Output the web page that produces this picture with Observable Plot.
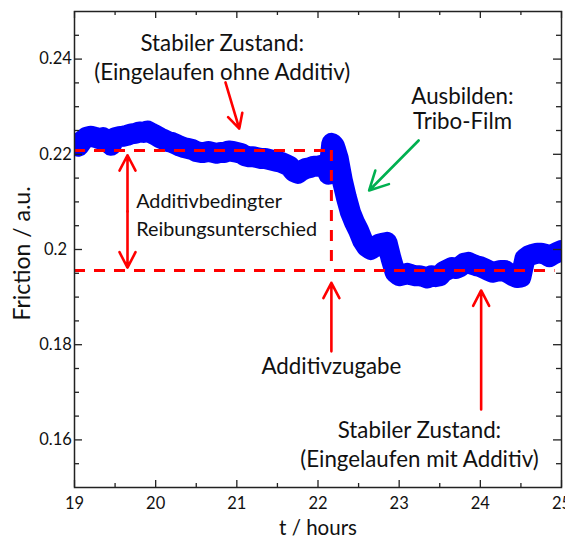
<!DOCTYPE html>
<html>
<head>
<meta charset="utf-8">
<script src="https://cdn.jsdelivr.net/npm/d3@7"></script>
<script src="https://cdn.jsdelivr.net/npm/@observablehq/plot@0.6"></script>
<style>
  html, body { margin: 0; padding: 0; background: #fff; }
  svg { display: block; }
</style>
</head>
<body>
<div id="chart"></div>
<script>
// ---- data ----
const timeHours = [
  19.00,19.05,19.10,19.15,19.20,19.25,19.30,19.35,19.40,19.45,
  19.50,19.55,19.60,19.65,19.70,19.75,19.80,19.85,19.90,19.95,
  20.00,20.05,20.10,20.15,20.20,20.25,20.30,20.35,20.40,20.45,
  20.50,20.55,20.60,20.65,20.70,20.75,20.80,20.85,20.90,20.95,
  21.00,21.05,21.10,21.15,21.20,21.25,21.30,21.35,21.40,21.45,
  21.50,21.55,21.60,21.65,21.70,21.75,21.80,21.85,21.90,21.95,
  22.00,22.05,22.10,22.13,22.17,22.20,22.22,22.25,22.30,22.35,
  22.40,22.45,22.50,22.55,22.60,22.65,22.70,22.75,22.80,22.85,
  22.90,22.95,23.00,23.05,23.10,23.15,23.20,23.25,23.30,23.35,
  23.40,23.45,23.50,23.55,23.60,23.65,23.70,23.75,23.80,23.85,
  23.90,23.95,24.00,24.05,24.10,24.15,24.20,24.25,24.30,24.35,
  24.40,24.45,24.50,24.55,24.60,24.65,24.70,24.75,24.80,24.85,
  24.90,24.95,25.00
];
const friction = [
  0.2223,0.2217,0.2229,0.2236,0.2238,0.2236,0.2233,0.2235,0.2229,0.2219,
  0.2235,0.2237,0.2238,0.2240,0.2243,0.2244,0.2247,0.2246,0.2249,0.2244,
  0.2240,0.2235,0.2231,0.2227,0.2225,0.2221,0.2217,0.2214,0.2212,0.2210,
  0.2206,0.2204,0.2204,0.2206,0.2204,0.2202,0.2204,0.2204,0.2207,0.2206,
  0.2204,0.2202,0.2197,0.2195,0.2195,0.2193,0.2191,0.2191,0.2189,0.2187,
  0.2185,0.2183,0.2179,0.2175,0.2164,0.2160,0.2166,0.2170,0.2172,0.2175,
  0.2175,0.2177,0.2175,0.2158,0.2223,0.2218,0.2208,0.2191,0.2145,0.2109,
  0.2078,0.2057,0.2040,0.2019,0.2006,0.2000,0.2006,0.2011,0.2013,0.2015,
  0.1981,0.1952,0.1945,0.1947,0.1950,0.1947,0.1945,0.1945,0.1943,0.1940,
  0.1945,0.1943,0.1945,0.1954,0.1958,0.1962,0.1960,0.1964,0.1971,0.1973,
  0.1969,0.1966,0.1964,0.1960,0.1956,0.1952,0.1954,0.1956,0.1956,0.1950,
  0.1945,0.1941,0.1942,0.1981,0.1987,0.1990,0.1992,0.1992,0.1990,0.1985,
  0.1990,0.1994,0.1998
];

const xDomain = [19, 25];
const yDomain = [0.15, 0.25];
const xMajorTicks = [19, 20, 21, 22, 23, 24, 25];
const xMinorTicks = [19.5, 20.5, 21.5, 22.5, 23.5, 24.5];
const yMajorTicks = [0.16, 0.18, 0.2, 0.22, 0.24];
const yMinorTicks = [0.155, 0.165, 0.17, 0.175, 0.185, 0.19, 0.195, 0.205, 0.21, 0.215, 0.225, 0.23, 0.235, 0.245];
const yTickLabels = ["0.16", "0.18", "0.2", "0.22", "0.24"];
const xLabel = "t / hours";
const yLabel = "Friction / a.u.";

// reference levels
const levelBefore = 0.2208;
const levelAfter = 0.1956;
const additiveTime = 22.165;
const levelEnd = 24.92;

// annotations
const annotCentered = [
  {t: 20.82, v: 0.2433, text: "Stabiler Zustand:"},
  {t: 20.82, v: 0.2372, text: "(Eingelaufen ohne Additiv)"},
  {t: 23.78, v: 0.2321, text: "Ausbilden:"},
  {t: 23.78, v: 0.2268, text: "Tribo-Film"},
  {t: 22.165, v: 0.1754, text: "Additivzugabe"},
  {t: 23.25, v: 0.1620, text: "Stabiler Zustand:"},
  {t: 23.25, v: 0.1559, text: "(Eingelaufen mit Additiv)"}
];
const annotLeft = [
  {t: 19.76, v: 0.2101, text: "Additivbedingter"},
  {t: 19.76, v: 0.2042, text: "Reibungsunterschied"}
];
const redArrows = [
  {x1: 20.86, y1: 0.2351, x2: 21.03, y2: 0.2254},
  {x1: 19.653, y1: 0.208, x2: 19.653, y2: 0.2198},
  {x1: 19.653, y1: 0.208, x2: 19.653, y2: 0.1962},
  {x1: 22.165, y1: 0.1786, x2: 22.165, y2: 0.1930},
  {x1: 24.01, y1: 0.1664, x2: 24.01, y2: 0.1914}
];
const greenArrows = [
  {x1: 23.24, y1: 0.2229, x2: 22.63, y2: 0.2124}
];

// ---- build ----
const series = timeHours.map((t, i) => ({t, v: friction[i]}));
const W = 565, H = 542;
const mL = 74, mR = 4, mT = 11, mB = 55;
const pxX = (xDomain[1] - xDomain[0]) / (W - mL - mR);
const pxY = (yDomain[1] - yDomain[0]) / (H - mT - mB);
const majorLen = 7, minorLen = 4;

const tickRulesX = (ticks, len) => [
  Plot.ruleX(ticks, {y1: yDomain[0], y2: yDomain[0] + len * pxY, stroke: "#222", strokeWidth: 1.3}),
  Plot.ruleX(ticks, {y1: yDomain[1], y2: yDomain[1] - len * pxY, stroke: "#222", strokeWidth: 1.3})
];
const tickRulesY = (ticks, len) => [
  Plot.ruleY(ticks, {x1: xDomain[0], x2: xDomain[0] + len * pxX, stroke: "#222", strokeWidth: 1.3}),
  Plot.ruleY(ticks, {x1: xDomain[1], x2: xDomain[1] - len * pxX, stroke: "#222", strokeWidth: 1.3})
];

const red = "#ff0000";
const bigFont = 22.3, smallFont = 19.8;
const chart = Plot.plot({
  width: W, height: H,
  marginLeft: mL, marginRight: mR, marginTop: mT, marginBottom: mB,
  style: {fontFamily: "Lato, 'Open Sans', sans-serif", fontSize: "16px", color: "#111", background: "#fff"},
  x: {domain: xDomain, axis: null},
  y: {domain: yDomain, axis: null},
  marks: [
    // data band
    Plot.line(series, {x: "t", y: "v", stroke: "#0000ff", strokeWidth: 21, strokeLinejoin: "round", strokeLinecap: "round", clip: true}),
    // dashed reference lines
    Plot.ruleY([levelBefore], {x1: xDomain[0], x2: additiveTime, stroke: red, strokeWidth: 3, strokeDasharray: "11,9"}),
    Plot.ruleY([levelAfter], {x1: xDomain[0], x2: levelEnd, stroke: red, strokeWidth: 3, strokeDasharray: "11,9"}),
    Plot.ruleX([additiveTime], {y1: levelBefore, y2: levelAfter, stroke: red, strokeWidth: 3, strokeDasharray: "11,9"}),
    // arrows
    Plot.arrow(redArrows, {x1: "x1", y1: "y1", x2: "x2", y2: "y2", stroke: red, strokeWidth: 2.6, headLength: 10, headAngle: 55}),
    Plot.arrow(greenArrows, {x1: "x1", y1: "y1", x2: "x2", y2: "y2", stroke: "#00b050", strokeWidth: 2.6, headLength: 12, headAngle: 55}),
    // annotation text
    Plot.text(annotCentered, {x: "t", y: "v", text: "text", textAnchor: "middle", fontSize: bigFont, fill: "#111"}),
    Plot.text(annotLeft, {x: "t", y: "v", text: "text", textAnchor: "start", fontSize: smallFont, fill: "#111"}),
    // frame and ticks
    Plot.frame({stroke: "#222", strokeWidth: 1.5}),
    ...tickRulesX(xMajorTicks, majorLen),
    ...tickRulesX(xMinorTicks, minorLen),
    ...tickRulesY(yMajorTicks, majorLen + 1),
    ...tickRulesY(yMinorTicks, minorLen + 1),
    // tick labels
    Plot.axisX(xMajorTicks, {anchor: "bottom", tickSize: 0, tickPadding: 10, fontSize: 16.5}),
    Plot.axisY(yMajorTicks, {anchor: "left", tickSize: 0, tickPadding: 19, textAnchor: "middle", fontSize: 16.5, tickFormat: (d, i) => yTickLabels[i]}),
    // axis labels
    Plot.text([xLabel], {frameAnchor: "bottom", lineAnchor: "middle", dy: 41, fontSize: 20.5, fill: "#111"}),
    Plot.text([yLabel], {frameAnchor: "left", textAnchor: "middle", lineAnchor: "middle", dx: -52, dy: 4, rotate: -90, fontSize: 23, fill: "#111"})
  ]
});
document.getElementById("chart").appendChild(chart);
</script>
</body>
</html>
